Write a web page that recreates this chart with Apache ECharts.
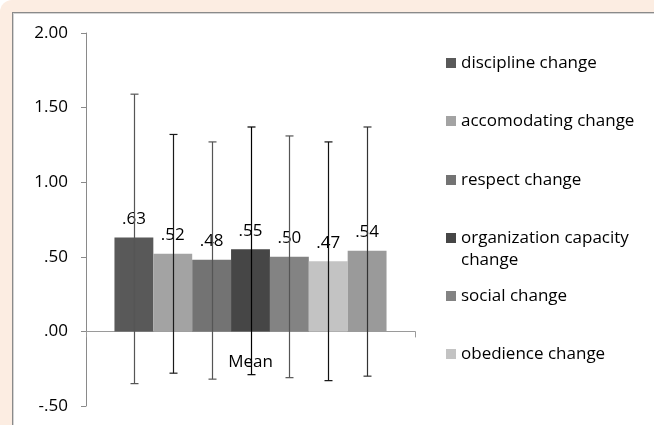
<!DOCTYPE html>
<html>
<head>
<meta charset="utf-8">
<script src="https://cdn.jsdelivr.net/npm/echarts@6/dist/echarts.min.js"></script>
<style>
  html, body { margin: 0; padding: 0; background: #ffffff; }
  #outer { position: absolute; left: 0; top: 0; width: 654px; height: 425px; background: #fcede2; border-top-left-radius: 12px; overflow: hidden; }
  #inner { position: absolute; left: 12px; top: 12px; width: 700px; height: 500px; background: #ffffff; border-top: 1px solid #8a8a8a; border-left: 1px solid #8a8a8a; box-shadow: inset 1px 1px 0 #d4d4d4; }
  #chart { position: absolute; left: 0; top: 0; width: 654px; height: 425px; }
</style>
</head>
<body>
<div id="outer"><div id="inner"></div></div>
<div id="chart"></div>
<script>
var categories = ['Mean'];
var seriesNames = ['discipline change', 'accomodating change', 'respect change', 'organization capacity change', 'social change', 'obedience change', 'overall change'];
var legendNames = ['discipline change', 'accomodating change', 'respect change', 'organization capacity change', 'social change', 'obedience change'];
var means = [0.63, 0.52, 0.48, 0.55, 0.50, 0.47, 0.54];
var upper = [1.59, 1.32, 1.27, 1.37, 1.31, 1.27, 1.37];
var lower = [-0.35, -0.28, -0.32, -0.29, -0.31, -0.33, -0.30];
var yTicks = [-0.5, 0, 0.5, 1.0, 1.5, 2.0];

var colors = ['#595959', '#a3a3a3', '#737373', '#464646', '#838383', '#c3c3c3', '#9a9a9a'];
var whiskerColors = ['#555555', '#1a1a1a', '#555555', '#000000', '#555555', '#111111', '#333333'];
var FONT = 'Open Sans';
var CAT_GAP = 0.173;

function fmt(v) {
  var s = Math.abs(v).toFixed(2).replace(/^0/, '');
  return (v < 0 ? '-' : '') + s;
}

var chart = echarts.init(document.getElementById('chart'), null, { renderer: 'canvas' });

var series = [];
seriesNames.forEach(function (name, i) {
  series.push({
    name: name,
    type: 'bar',
    data: [means[i]],
    barGap: 0,
    barCategoryGap: (CAT_GAP * 100) + '%',
    itemStyle: { color: colors[i] },
    label: {
      show: true, position: 'top', distance: 10,
      fontFamily: FONT, fontSize: 17, color: '#000',
      formatter: function (p) { return fmt(p.value); }
    },
    z: 2
  });
});
seriesNames.forEach(function (name, i) {
  series.push({
    type: 'custom',
    name: name + ' error',
    data: [[0, lower[i], upper[i]]],
    z: 5,
    silent: true,
    renderItem: function (params, api) {
      var band = api.size([1, 0])[0];
      var n = seriesNames.length;
      var total = band * (1 - CAT_GAP);
      var bw = total / n;
      var c = api.coord([api.value(0), 0]);
      var x = Math.round(c[0] - total / 2 + bw * (i + 0.5)) + 0.5;
      var yl = api.coord([0, api.value(1)])[1];
      var yh = api.coord([0, api.value(2)])[1];
      var cap = 4;
      var st = { stroke: whiskerColors[i], lineWidth: 1.2 };
      return {
        type: 'group',
        children: [
          { type: 'line', shape: { x1: x, y1: yl, x2: x, y2: yh }, style: st },
          { type: 'line', shape: { x1: x - cap, y1: yh, x2: x + cap, y2: yh }, style: st },
          { type: 'line', shape: { x1: x - cap, y1: yl, x2: x + cap, y2: yl }, style: st }
        ]
      };
    }
  });
});

var legendTops = [47, 105, 164, 200, 280, 338];
var legends = legendNames.map(function (name, i) {
  var isOrg = name === 'organization capacity change';
  return {
    data: [name],
    orient: 'vertical',
    left: 441,
    top: legendTops[i],
    itemWidth: 10,
    itemHeight: 10,
    icon: 'rect',
    selectedMode: false,
    textStyle: { fontFamily: FONT, fontSize: 17, color: '#000', lineHeight: 22 },
    formatter: isOrg ? function () { return ' \norganization capacity\nchange'; } : '{name}'
  };
});

chart.setOption({
  animation: false,
  backgroundColor: 'transparent',
  color: colors,
  grid: { left: 86, right: 239, top: 33, bottom: 19, containLabel: false, outerBoundsMode: 'none' },
  legend: legends,
  xAxis: {
    type: 'category',
    data: categories,
    axisLine: { onZero: true, lineStyle: { color: '#9a9a9a', width: 1 } },
    axisTick: { show: true, length: 6, lineStyle: { color: '#9a9a9a' } },
    axisLabel: { fontFamily: FONT, fontSize: 17, color: '#000', margin: -52 }
  },
  yAxis: {
    type: 'value',
    min: yTicks[0],
    max: yTicks[yTicks.length - 1],
    interval: 0.5,
    splitLine: { show: false },
    axisLine: { show: true, lineStyle: { color: '#8a8a8a' } },
    axisTick: { show: true, length: 5, lineStyle: { color: '#8a8a8a' } },
    axisLabel: { fontFamily: FONT, fontSize: 17, color: '#000', margin: 18, formatter: fmt }
  },
  series: series
});
</script>
</body>
</html>
